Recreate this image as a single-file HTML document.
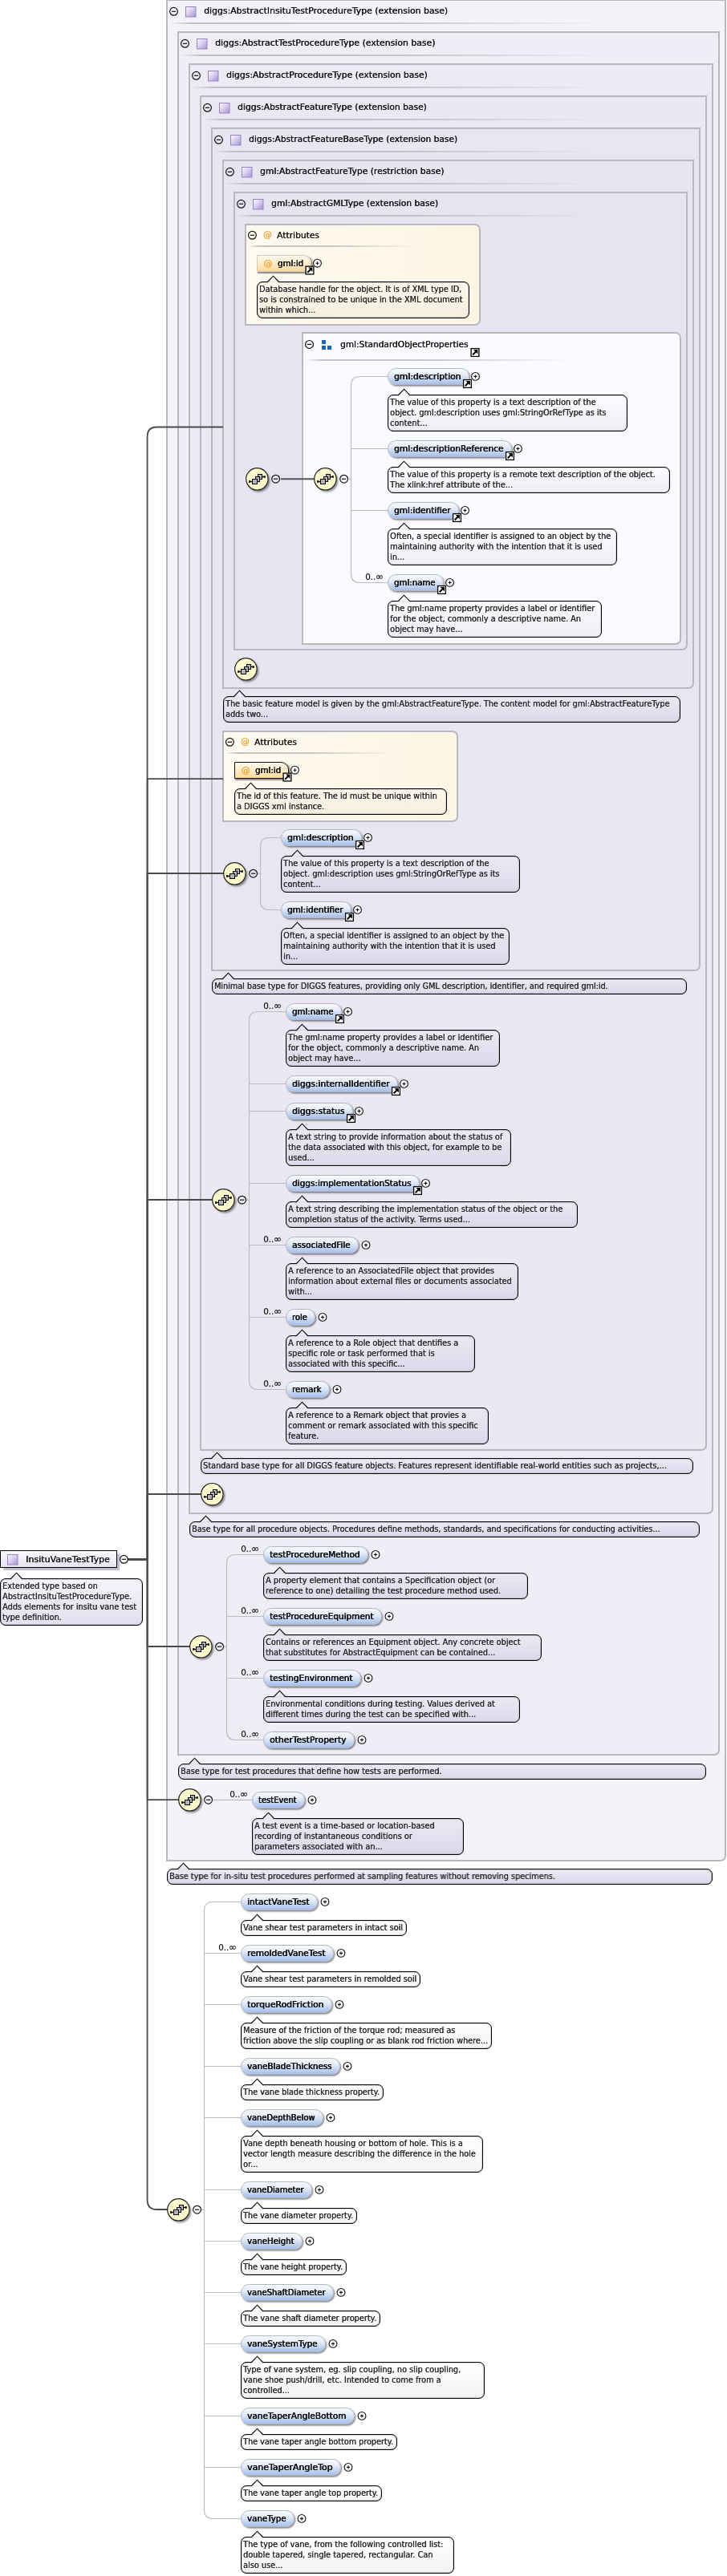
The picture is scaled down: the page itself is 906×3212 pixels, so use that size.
<!DOCTYPE html>
<html><head><meta charset="utf-8"><title>InsituVaneTestType</title>
<style>
html,body{margin:0;padding:0;background:#fff}
body{width:906px;height:3212px;position:relative;overflow:hidden;font-family:"DejaVu Sans","Liberation Sans",sans-serif;color:#1a1a1a}
div{position:absolute;box-sizing:content-box}
#w{left:0;top:0;width:906px;height:3212px;will-change:transform}
.tb{border:2px solid #b9b9bc;border-bottom-right-radius:7px}
.dv{left:2px;right:2px;height:2px;background:linear-gradient(90deg,rgba(185,185,190,0) 0%,rgba(185,185,190,.9) 4%,rgba(185,185,190,.8) 40%,rgba(185,185,190,0) 80%)}
.dvg{left:2px;right:2px;height:2px;background:linear-gradient(90deg,rgba(185,185,190,0) 0%,rgba(185,185,190,.85) 5%,rgba(185,185,190,.75) 35%,rgba(185,185,190,0) 72%)}
.dvr{left:2px;right:2px;height:2px;background:linear-gradient(90deg,rgba(185,185,190,0) 0%,rgba(185,185,190,.85) 5%,rgba(185,185,190,.75) 38%,rgba(185,185,190,0) 74%)}
.ab{border:2px solid #b9b9bc;border-radius:0 7px 7px 0;background:linear-gradient(90deg,#fefaf0,#fdf5e3);box-shadow:inset 1px 1px 0 rgba(255,255,255,.5), inset -1px -1px 0 rgba(255,255,255,.5)}
.gb{border:2px solid #b9b9bc;border-radius:0 7px 7px 0;background:#fafbfe}
.lbl{font-size:11px;line-height:16px;height:16px;white-space:nowrap;color:#151515;text-shadow:.38px 0 0 #151515}
.a,.lbl.a{color:#f5a63a;text-shadow:.2px 0 0 #f5a63a}
.el{height:19px;border:1px solid #b3b7c0;border-radius:10.5px;background:linear-gradient(#f7f9fd 0%,#e6edf9 38%,#bed1f1 75%,#a6c0ec 100%);box-shadow:1.2px 1.5px 2px rgba(0,0,0,.5);font-size:11px;line-height:19.6px;padding-left:6.5px;white-space:nowrap;color:#151515;text-shadow:.4px 0 0 #151515,-.1px 0 0 #151515}
.at{height:19px;border:1px solid #d0ccc2;border-radius:0 10px 0 0;background:linear-gradient(#fef8ec,#fdecc9 50%,#fad9a0);box-shadow:1.5px 1.5px 1.5px rgba(0,0,0,.45);font-size:11px;line-height:19.6px;white-space:nowrap;color:#151515;text-shadow:.4px 0 0 #151515,-.1px 0 0 #151515}
.at.rq{border-color:#111}
.at .a{display:inline-block;width:17px;margin-left:7.5px}
.an{border:1px solid #000;border-radius:7px;background:linear-gradient(#ece9f5,#dcd8ea);font-size:10px;line-height:13px;padding:2px 0 0 1.8px;white-space:nowrap;color:#2c2c2c;text-shadow:.3px 0 0 #2c2c2c;box-shadow:inset 0 0 .8px .2px rgba(0,0,0,.55);box-sizing:border-box;overflow:hidden}
.cd{font-size:10.4px;line-height:13px;white-space:nowrap;color:#111;letter-spacing:-.1px;-webkit-text-stroke:.15px #111}
.root{border:1px solid #000;background:linear-gradient(#fbfafd,#e6e2f2);box-shadow:2.5px 2.5px 1px rgba(110,100,160,.42)}
svg{position:absolute;left:0;top:0}
.sx{display:inline-block;transform-origin:0 50%;white-space:nowrap}
</style></head>
<body><div id="w">
<div class="tb" style="left:207px;top:-1px;width:694px;height:2318px;background:#f5f3fa"><div class="dv" style="top:27px"></div></div>
<div class="lbl" style="left:254px;top:6px;transform:translateY(0.4px);"><span class="sx" style="transform:scaleX(0.9884)">diggs:AbstractInsituTestProcedureType (extension base)</span></div>
<div class="tb" style="left:221px;top:39px;width:672px;height:2146px;background:#f0edf7"><div class="dv" style="top:27px"></div></div>
<div class="lbl" style="left:268px;top:46px;transform:translateY(0.4px);"><span class="sx" style="transform:scaleX(0.9896)">diggs:AbstractTestProcedureType (extension base)</span></div>
<div class="tb" style="left:235px;top:79px;width:650px;height:1805px;background:#edeaf5"><div class="dv" style="top:27px"></div></div>
<div class="lbl" style="left:282px;top:86px;transform:translateY(0.4px);"><span class="sx" style="transform:scaleX(0.9807)">diggs:AbstractProcedureType (extension base)</span></div>
<div class="tb" style="left:249px;top:119px;width:628px;height:1686px;background:#ebe8f4"><div class="dv" style="top:27px"></div></div>
<div class="lbl" style="left:296px;top:126px;transform:translateY(0.4px);"><span class="sx" style="transform:scaleX(0.9743)">diggs:AbstractFeatureType (extension base)</span></div>
<div class="tb" style="left:263px;top:159px;width:606px;height:1048px;background:#e9e6f3"><div class="dv" style="top:27px"></div></div>
<div class="lbl" style="left:310px;top:166px;transform:translateY(0.4px);"><span class="sx" style="transform:scaleX(0.9677)">diggs:AbstractFeatureBaseType (extension base)</span></div>
<div class="tb" style="left:277px;top:199px;width:584px;height:656px;background:#e8e5f2"><div class="dv" style="top:27px"></div></div>
<div class="lbl" style="left:324px;top:206px;transform:translateY(0.4px);"><span class="sx" style="transform:scaleX(0.9758)">gml:AbstractFeatureType (restriction base)</span></div>
<div class="tb" style="left:291px;top:239px;width:562px;height:568px;background:#e7e4f1"><div class="dv" style="top:27px"></div></div>
<div class="lbl" style="left:338px;top:246px;transform:translateY(0.4px);"><span class="sx" style="transform:scaleX(0.9720)">gml:AbstractGMLType (extension base)</span></div>
<div class="ab" style="left:305px;top:279px;width:290px;height:123px"><div class="dvr" style="top:25px"></div></div>
<div class="lbl a" style="left:327.6px;top:285px;transform:translateY(0.4px);"><span class="sx" style="transform:scaleX(0.9750)">@</span></div>
<div class="lbl" style="left:345px;top:286px;"><span class="sx" style="transform:scaleX(0.9722)">Attributes</span></div>
<div class="at" style="left:320px;top:318px;width:65.5px"><span class="a">@</span><span class="sx" style="transform:scaleX(0.9300)">gml:id</span></div>
<div class="an" style="left:320px;top:351px;width:265px;height:46px;background:linear-gradient(#fdf8ec,#f4eedf);"><span class="sx" style="transform:scaleX(0.9720)">Database handle for the object. It is of XML type ID,</span><br><span class="sx" style="transform:scaleX(0.9720)">so is constrained to be unique in the XML document</span><br><span class="sx" style="transform:scaleX(0.9720)">within which...</span></div>
<div class="gb" style="left:376px;top:414px;width:469px;height:386px"><div class="dvg" style="top:32px"></div></div>
<div class="lbl" style="left:423.5px;top:422px;"><span class="sx" style="transform:scaleX(0.9606)">gml:StandardObjectProperties</span></div>
<div class="el" style="left:483px;top:459px;width:93.5px"><span class="sx" style="transform:scaleX(0.9750)">gml:description</span></div>
<div class="an" style="left:483px;top:492px;width:299px;height:46px;background:linear-gradient(#fbfcfe,#eeeff4);"><span class="sx" style="transform:scaleX(0.9720)">The value of this property is a text description of the</span><br><span class="sx" style="transform:scaleX(0.9720)">object. gml:description uses gml:StringOrRefType as its</span><br><span class="sx" style="transform:scaleX(0.9720)">content...</span></div>
<div class="el" style="left:483px;top:549px;width:146.5px"><span class="sx" style="transform:scaleX(0.9680)">gml:descriptionReference</span></div>
<div class="an" style="left:483px;top:582px;width:352px;height:33px;background:linear-gradient(#fbfcfe,#eeeff4);"><span class="sx" style="transform:scaleX(0.9720)">The value of this property is a remote text description of the object.</span><br><span class="sx" style="transform:scaleX(0.9720)">The xlink:href attribute of the...</span></div>
<div class="el" style="left:483px;top:626px;width:80.5px"><span class="sx" style="transform:scaleX(0.9549)">gml:identifier</span></div>
<div class="an" style="left:483px;top:659px;width:286px;height:46px;background:linear-gradient(#fbfcfe,#eeeff4);"><span class="sx" style="transform:scaleX(0.9720)">Often, a special identifier is assigned to an object by the</span><br><span class="sx" style="transform:scaleX(0.9720)">maintaining authority with the intention that it is used</span><br><span class="sx" style="transform:scaleX(0.9720)">in...</span></div>
<div class="el" style="left:483px;top:716px;width:61.5px"><span class="sx" style="transform:scaleX(0.9253)">gml:name</span></div>
<div class="cd" style="left:455.2px;top:712.74px">0..<span style="font-size:12px;line-height:10px">∞</span></div>
<div class="an" style="left:483px;top:749px;width:267px;height:46px;background:linear-gradient(#fbfcfe,#eeeff4);"><span class="sx" style="transform:scaleX(0.9720)">The gml:name property provides a label or identifier</span><br><span class="sx" style="transform:scaleX(0.9720)">for the object, commonly a descriptive name. An</span><br><span class="sx" style="transform:scaleX(0.9720)">object may have...</span></div>
<div class="an" style="left:278px;top:868px;width:570px;height:33px;background:linear-gradient(#ece9f5,#dcd8ea);"><span class="sx" style="transform:scaleX(0.9670)">The basic feature model is given by the gml:AbstractFeatureType. The content model for gml:AbstractFeatureType</span><br><span class="sx" style="transform:scaleX(0.9670)">adds two...</span></div>
<div class="ab" style="left:277px;top:911px;width:290px;height:110px"><div class="dvr" style="top:25px"></div></div>
<div class="lbl a" style="left:299.6px;top:917px;transform:translateY(0.4px);"><span class="sx" style="transform:scaleX(0.9750)">@</span></div>
<div class="lbl" style="left:317px;top:918px;"><span class="sx" style="transform:scaleX(0.9722)">Attributes</span></div>
<div class="at rq" style="left:292px;top:950px;width:65.5px"><span class="a">@</span><span class="sx" style="transform:scaleX(0.9300)">gml:id</span></div>
<div class="an" style="left:292px;top:983px;width:265px;height:33px;background:linear-gradient(#fdf8ec,#f4eedf);"><span class="sx" style="transform:scaleX(0.9720)">The id of this feature. The id must be unique within</span><br><span class="sx" style="transform:scaleX(0.9720)">a DIGGS xml instance.</span></div>
<div class="el" style="left:350px;top:1034px;width:92.5px"><span class="sx" style="transform:scaleX(0.9633)">gml:description</span></div>
<div class="an" style="left:350px;top:1067px;width:298px;height:46px;background:linear-gradient(#ece9f5,#dcd8ea);"><span class="sx" style="transform:scaleX(0.9720)">The value of this property is a text description of the</span><br><span class="sx" style="transform:scaleX(0.9720)">object. gml:description uses gml:StringOrRefType as its</span><br><span class="sx" style="transform:scaleX(0.9720)">content...</span></div>
<div class="el" style="left:350px;top:1124px;width:79.5px"><span class="sx" style="transform:scaleX(0.9414)">gml:identifier</span></div>
<div class="an" style="left:350px;top:1157px;width:285px;height:46px;background:linear-gradient(#ece9f5,#dcd8ea);"><span class="sx" style="transform:scaleX(0.9720)">Often, a special identifier is assigned to an object by the</span><br><span class="sx" style="transform:scaleX(0.9720)">maintaining authority with the intention that it is used</span><br><span class="sx" style="transform:scaleX(0.9720)">in...</span></div>
<div class="an" style="left:264px;top:1220px;width:592px;height:20px;background:linear-gradient(#ece9f5,#dcd8ea);"><span class="sx" style="transform:scaleX(0.9630)">Minimal base type for DIGGS features, providing only GML description, identifier, and required gml:id.</span></div>
<div class="el" style="left:356px;top:1251px;width:61.5px"><span class="sx" style="transform:scaleX(0.9253)">gml:name</span></div>
<div class="cd" style="left:328.2px;top:1247.74px">0..<span style="font-size:12px;line-height:10px">∞</span></div>
<div class="an" style="left:356px;top:1284px;width:267px;height:46px;background:linear-gradient(#ece9f5,#dcd8ea);"><span class="sx" style="transform:scaleX(0.9720)">The gml:name property provides a label or identifier</span><br><span class="sx" style="transform:scaleX(0.9720)">for the object, commonly a descriptive name. An</span><br><span class="sx" style="transform:scaleX(0.9720)">object may have...</span></div>
<div class="el" style="left:356px;top:1341px;width:131.5px"><span class="sx" style="transform:scaleX(0.9704)">diggs:internalIdentifier</span></div>
<div class="el" style="left:356px;top:1375px;width:75.5px"><span class="sx" style="transform:scaleX(0.9740)">diggs:status</span></div>
<div class="an" style="left:356px;top:1408px;width:281px;height:46px;background:linear-gradient(#ece9f5,#dcd8ea);"><span class="sx" style="transform:scaleX(0.9720)">A text string to provide information about the status of</span><br><span class="sx" style="transform:scaleX(0.9720)">the data associated with this object, for example to be</span><br><span class="sx" style="transform:scaleX(0.9720)">used...</span></div>
<div class="el" style="left:356px;top:1465px;width:158.5px"><span class="sx" style="transform:scaleX(0.9539)">diggs:implementationStatus</span></div>
<div class="an" style="left:356px;top:1498px;width:364px;height:33px;background:linear-gradient(#ece9f5,#dcd8ea);"><span class="sx" style="transform:scaleX(0.9720)">A text string describing the implementation status of the object or the</span><br><span class="sx" style="transform:scaleX(0.9720)">completion status of the activity. Terms used...</span></div>
<div class="el" style="left:356px;top:1542px;width:82.5px"><span class="sx" style="transform:scaleX(0.9383)">associatedFile</span></div>
<div class="cd" style="left:328.2px;top:1538.74px">0..<span style="font-size:12px;line-height:10px">∞</span></div>
<div class="an" style="left:356px;top:1575px;width:290px;height:46px;background:linear-gradient(#ece9f5,#dcd8ea);"><span class="sx" style="transform:scaleX(0.9720)">A reference to an AssociatedFile object that provides</span><br><span class="sx" style="transform:scaleX(0.9720)">information about external files or documents associated</span><br><span class="sx" style="transform:scaleX(0.9720)">with...</span></div>
<div class="el" style="left:356px;top:1632px;width:28.5px"><span class="sx" style="transform:scaleX(0.9000)">role</span></div>
<div class="cd" style="left:328.2px;top:1628.74px">0..<span style="font-size:12px;line-height:10px">∞</span></div>
<div class="an" style="left:356px;top:1665px;width:236px;height:46px;background:linear-gradient(#ece9f5,#dcd8ea);"><span class="sx" style="transform:scaleX(0.9720)">A reference to a Role object that dentifies a</span><br><span class="sx" style="transform:scaleX(0.9720)">specific role or task performed that is</span><br><span class="sx" style="transform:scaleX(0.9720)">associated with this specific...</span></div>
<div class="el" style="left:356px;top:1722px;width:46.5px"><span class="sx" style="transform:scaleX(0.9266)">remark</span></div>
<div class="cd" style="left:328.2px;top:1718.74px">0..<span style="font-size:12px;line-height:10px">∞</span></div>
<div class="an" style="left:356px;top:1755px;width:253px;height:46px;background:linear-gradient(#ece9f5,#dcd8ea);"><span class="sx" style="transform:scaleX(0.9720)">A reference to a Remark object that provies a</span><br><span class="sx" style="transform:scaleX(0.9720)">comment or remark associated with this specific</span><br><span class="sx" style="transform:scaleX(0.9720)">feature.</span></div>
<div class="an" style="left:250px;top:1818px;width:614px;height:20px;background:linear-gradient(#ece9f5,#dcd8ea);"><span class="sx" style="transform:scaleX(0.9720)">Standard base type for all DIGGS feature objects. Features represent identifiable real-world entities such as projects,...</span></div>
<div class="an" style="left:236px;top:1897px;width:636px;height:20px;background:linear-gradient(#ece9f5,#dcd8ea);"><span class="sx" style="transform:scaleX(0.9660)">Base type for all procedure objects. Procedures define methods, standards, and specifications for conducting activities...</span></div>
<div class="el" style="left:328px;top:1928px;width:122.5px"><span class="sx" style="transform:scaleX(0.9562)">testProcedureMethod</span></div>
<div class="cd" style="left:300.2px;top:1924.74px">0..<span style="font-size:12px;line-height:10px">∞</span></div>
<div class="an" style="left:328px;top:1961px;width:330px;height:33px;background:linear-gradient(#ece9f5,#dcd8ea);"><span class="sx" style="transform:scaleX(0.9720)">A property element that contains a Specification object (or</span><br><span class="sx" style="transform:scaleX(0.9720)">reference to one) detailing the test procedure method used.</span></div>
<div class="el" style="left:328px;top:2005px;width:139.5px"><span class="sx" style="transform:scaleX(0.9513)">testProcedureEquipment</span></div>
<div class="cd" style="left:300.2px;top:2001.74px">0..<span style="font-size:12px;line-height:10px">∞</span></div>
<div class="an" style="left:328px;top:2038px;width:347px;height:33px;background:linear-gradient(#ece9f5,#dcd8ea);"><span class="sx" style="transform:scaleX(0.9720)">Contains or references an Equipment object. Any concrete object</span><br><span class="sx" style="transform:scaleX(0.9720)">that substitutes for AbstractEquipment can be contained...</span></div>
<div class="el" style="left:328px;top:2082px;width:113.5px"><span class="sx" style="transform:scaleX(0.9549)">testingEnvironment</span></div>
<div class="cd" style="left:300.2px;top:2078.74px">0..<span style="font-size:12px;line-height:10px">∞</span></div>
<div class="an" style="left:328px;top:2115px;width:320px;height:33px;background:linear-gradient(#ece9f5,#dcd8ea);"><span class="sx" style="transform:scaleX(0.9720)">Environmental conditions during testing. Values derived at</span><br><span class="sx" style="transform:scaleX(0.9720)">different times during the test can be specified with...</span></div>
<div class="el" style="left:328px;top:2159px;width:105.5px"><span class="sx" style="transform:scaleX(0.9793)">otherTestProperty</span></div>
<div class="cd" style="left:300.2px;top:2155.74px">0..<span style="font-size:12px;line-height:10px">∞</span></div>
<div class="an" style="left:222px;top:2199px;width:658px;height:20px;background:linear-gradient(#ece9f5,#dcd8ea);"><span class="sx" style="transform:scaleX(0.9690)">Base type for test procedures that define how tests are performed.</span></div>
<div class="el" style="left:314px;top:2234px;width:57.5px"><span class="sx" style="transform:scaleX(0.9023)">testEvent</span></div>
<div class="cd" style="left:286.2px;top:2230.74px">0..<span style="font-size:12px;line-height:10px">∞</span></div>
<div class="an" style="left:314px;top:2267px;width:264px;height:46px;background:linear-gradient(#ece9f5,#dcd8ea);"><span class="sx" style="transform:scaleX(0.9720)">A test event is a time-based or location-based</span><br><span class="sx" style="transform:scaleX(0.9720)">recording of instantaneous conditions or</span><br><span class="sx" style="transform:scaleX(0.9720)">parameters associated with an...</span></div>
<div class="an" style="left:208px;top:2330px;width:680px;height:20px;background:linear-gradient(#ece9f5,#dcd8ea);"><span class="sx" style="transform:scaleX(0.9700)">Base type for in-situ test procedures performed at sampling features without removing specimens.</span></div>
<div class="el" style="left:300px;top:2361px;width:87.5px"><span class="sx" style="transform:scaleX(0.9659)">intactVaneTest</span></div>
<div class="an" style="left:300px;top:2394px;width:207px;height:20px;background:linear-gradient(#ffffff,#f3f3f6);"><span class="sx" style="transform:scaleX(0.9781)">Vane shear test parameters in intact soil</span></div>
<div class="el" style="left:300px;top:2425px;width:107.5px"><span class="sx" style="transform:scaleX(0.9645)">remoldedVaneTest</span></div>
<div class="cd" style="left:272.2px;top:2421.74px">0..<span style="font-size:12px;line-height:10px">∞</span></div>
<div class="an" style="left:300px;top:2458px;width:224px;height:20px;background:linear-gradient(#ffffff,#f3f3f6);"><span class="sx" style="transform:scaleX(0.9713)">Vane shear test parameters in remolded soil</span></div>
<div class="el" style="left:300px;top:2489px;width:105.5px"><span class="sx" style="transform:scaleX(0.9826)">torqueRodFriction</span></div>
<div class="an" style="left:300px;top:2522px;width:313px;height:33px;background:linear-gradient(#ffffff,#f3f3f6);"><span class="sx" style="transform:scaleX(0.9708)">Measure of the friction of the torque rod; measured as</span><br><span class="sx" style="transform:scaleX(0.9708)">friction above the slip coupling or as blank rod friction where...</span></div>
<div class="el" style="left:300px;top:2566px;width:115.5px"><span class="sx" style="transform:scaleX(0.9382)">vaneBladeThickness</span></div>
<div class="an" style="left:300px;top:2599px;width:178px;height:20px;background:linear-gradient(#ffffff,#f3f3f6);"><span class="sx" style="transform:scaleX(0.9692)">The vane blade thickness property.</span></div>
<div class="el" style="left:300px;top:2630px;width:94.5px"><span class="sx" style="transform:scaleX(0.9028)">vaneDepthBelow</span></div>
<div class="an" style="left:300px;top:2663px;width:302px;height:46px;background:linear-gradient(#ffffff,#f3f3f6);"><span class="sx" style="transform:scaleX(0.9720)">Vane depth beneath housing or bottom of hole. This is a</span><br><span class="sx" style="transform:scaleX(0.9720)">vector length measure describing the difference in the hole</span><br><span class="sx" style="transform:scaleX(0.9720)">or...</span></div>
<div class="el" style="left:300px;top:2720px;width:80.5px"><span class="sx" style="transform:scaleX(0.9001)">vaneDiameter</span></div>
<div class="an" style="left:300px;top:2753px;width:145px;height:20px;background:linear-gradient(#ffffff,#f3f3f6);"><span class="sx" style="transform:scaleX(0.9610)">The vane diameter property.</span></div>
<div class="el" style="left:300px;top:2784px;width:68.5px"><span class="sx" style="transform:scaleX(0.9235)">vaneHeight</span></div>
<div class="an" style="left:300px;top:2817px;width:132px;height:20px;background:linear-gradient(#ffffff,#f3f3f6);"><span class="sx" style="transform:scaleX(0.9603)">The vane height property.</span></div>
<div class="el" style="left:300px;top:2848px;width:107.5px"><span class="sx" style="transform:scaleX(0.9111)">vaneShaftDiameter</span></div>
<div class="an" style="left:300px;top:2881px;width:174px;height:20px;background:linear-gradient(#ffffff,#f3f3f6);"><span class="sx" style="transform:scaleX(0.9726)">The vane shaft diameter property.</span></div>
<div class="el" style="left:300px;top:2912px;width:97.5px"><span class="sx" style="transform:scaleX(0.9380)">vaneSystemType</span></div>
<div class="an" style="left:300px;top:2945px;width:304px;height:46px;background:linear-gradient(#ffffff,#f3f3f6);"><span class="sx" style="transform:scaleX(0.9720)">Type of vane system, eg. slip coupling, no slip coupling,</span><br><span class="sx" style="transform:scaleX(0.9720)">vane shoe push/drill, etc. Intended to come from a</span><br><span class="sx" style="transform:scaleX(0.9720)">controlled...</span></div>
<div class="el" style="left:300px;top:3002px;width:133.5px"><span class="sx" style="transform:scaleX(0.9607)">vaneTaperAngleBottom</span></div>
<div class="an" style="left:300px;top:3035px;width:195px;height:20px;background:linear-gradient(#ffffff,#f3f3f6);"><span class="sx" style="transform:scaleX(0.9631)">The vane taper angle bottom property.</span></div>
<div class="el" style="left:300px;top:3066px;width:116.5px"><span class="sx" style="transform:scaleX(0.9977)">vaneTaperAngleTop</span></div>
<div class="an" style="left:300px;top:3099px;width:176px;height:20px;background:linear-gradient(#ffffff,#f3f3f6);"><span class="sx" style="transform:scaleX(0.9634)">The vane taper angle top property.</span></div>
<div class="el" style="left:300px;top:3130px;width:58.5px"><span class="sx" style="transform:scaleX(0.9282)">vaneType</span></div>
<div class="an" style="left:300px;top:3163px;width:266px;height:46px;background:linear-gradient(#ffffff,#f3f3f6);"><span class="sx" style="transform:scaleX(0.9720)">The type of vane, from the following controlled list:</span><br><span class="sx" style="transform:scaleX(0.9720)">double tapered, single tapered, rectangular. Can</span><br><span class="sx" style="transform:scaleX(0.9720)">also use...</span></div>
<div class="root" style="left:0px;top:1933px;width:144px;height:20px"></div>
<div class="lbl" style="left:31.8px;top:1937px;"><span class="sx" style="transform:scaleX(1.0033)">InsituVaneTestType</span></div>
<div class="an" style="left:0px;top:1968px;width:178px;height:59px;background:linear-gradient(#f6f4fb,#e3dff0);"><span class="sx" style="transform:scaleX(0.9720)">Extended type based on</span><br><span class="sx" style="transform:scaleX(0.9720)">AbstractInsituTestProcedureType.</span><br><span class="sx" style="transform:scaleX(0.9720)">Adds elements for insitu vane test</span><br><span class="sx" style="transform:scaleX(0.9720)">type definition.</span></div>
<svg width="906" height="3212" viewBox="0 0 906 3212" style="z-index:1"><defs><linearGradient id="gsq" x1="0" y1="0" x2="1" y2="1"><stop offset="0" stop-color="#fbfaff"/><stop offset=".45" stop-color="#d9d1ef"/><stop offset="1" stop-color="#a292d4"/></linearGradient><filter id="blur" x="-30%" y="-30%" width="160%" height="160%"><feGaussianBlur stdDeviation="1.1"/></filter></defs>
<path d="M159.5 1944.4H183.6V544.5Q183.6 532.5 195.6 532.5H278" fill="none" stroke="#4a4a4a" stroke-width="1.8" stroke-linejoin="miter"/>
<path d="M159.5 1944.4H183.6V971.2H278" fill="none" stroke="#4a4a4a" stroke-width="1.8" stroke-linejoin="miter"/>
<path d="M159.5 1944.4H183.6V1089H279" fill="none" stroke="#4a4a4a" stroke-width="1.8" stroke-linejoin="miter"/>
<path d="M159.5 1944.4H183.6V1496H265" fill="none" stroke="#4a4a4a" stroke-width="1.8" stroke-linejoin="miter"/>
<path d="M159.5 1944.4H183.6V1863H251" fill="none" stroke="#4a4a4a" stroke-width="1.8" stroke-linejoin="miter"/>
<path d="M159.5 1944.4H183.6V2053H237" fill="none" stroke="#4a4a4a" stroke-width="1.8" stroke-linejoin="miter"/>
<path d="M159.5 1944.4H183.6V2244.2H223" fill="none" stroke="#4a4a4a" stroke-width="1.8" stroke-linejoin="miter"/>
<path d="M159.5 1944.4H183.6V2743Q183.6 2755 195.6 2755H209" fill="none" stroke="#4a4a4a" stroke-width="1.8" stroke-linejoin="miter"/>
<path d="M350 597.2H392" stroke="#555" stroke-width="2"/>
<path d="M433.5 597.3H437.5M484 469.5H448.5Q437.5 469.5 437.5 480.5V715.5Q437.5 726.5 448.5 726.5H484M437.5 559.5H484M437.5 636.5H484" fill="none" stroke="#bdbdbd" stroke-width="1.2"/>
<path d="M320.5 1089.3H324.5M351 1044.5H335.5Q324.5 1044.5 324.5 1055.5V1123.5Q324.5 1134.5 335.5 1134.5H351" fill="none" stroke="#bdbdbd" stroke-width="1.2"/>
<path d="M306.5 1496.3H310.5M357 1261.5H321.5Q310.5 1261.5 310.5 1272.5V1721.5Q310.5 1732.5 321.5 1732.5H357M310.5 1351.5H357M310.5 1385.5H357M310.5 1475.5H357M310.5 1552.5H357M310.5 1642.5H357" fill="none" stroke="#bdbdbd" stroke-width="1.2"/>
<path d="M278.5 2053.3H282.5M329 1938.5H293.5Q282.5 1938.5 282.5 1949.5V2158.5Q282.5 2169.5 293.5 2169.5H329M282.5 2015.5H329M282.5 2092.5H329" fill="none" stroke="#bdbdbd" stroke-width="1.2"/>
<path d="M264.5 2244.3H315" stroke="#bdbdbd" stroke-width="1.2"/>
<path d="M250.5 2755.3H254.5M301 2371.5H265.5Q254.5 2371.5 254.5 2382.5V3129.5Q254.5 3140.5 265.5 3140.5H301M254.5 2435.5H301M254.5 2499.5H301M254.5 2576.5H301M254.5 2640.5H301M254.5 2730.5H301M254.5 2794.5H301M254.5 2858.5H301M254.5 2922.5H301M254.5 3012.5H301M254.5 3076.5H301" fill="none" stroke="#bdbdbd" stroke-width="1.2"/>
</svg>
<svg width="906" height="3212" viewBox="0 0 906 3212" style="z-index:3">
<g transform="translate(216.5,14.3)"><circle r="4.9" fill="none" stroke="#111" stroke-width="1.2"/><path d="M-2.6 0H2.6" stroke="#111" stroke-width="1.2"/></g>
<rect x="231.5" y="8.5" width="12.5" height="12.5" fill="url(#gsq)" stroke="#9585c4" stroke-width="1"/>
<g transform="translate(230.5,54.3)"><circle r="4.9" fill="none" stroke="#111" stroke-width="1.2"/><path d="M-2.6 0H2.6" stroke="#111" stroke-width="1.2"/></g>
<rect x="245.5" y="48.5" width="12.5" height="12.5" fill="url(#gsq)" stroke="#9585c4" stroke-width="1"/>
<g transform="translate(244.5,94.3)"><circle r="4.9" fill="none" stroke="#111" stroke-width="1.2"/><path d="M-2.6 0H2.6" stroke="#111" stroke-width="1.2"/></g>
<rect x="259.5" y="88.5" width="12.5" height="12.5" fill="url(#gsq)" stroke="#9585c4" stroke-width="1"/>
<g transform="translate(258.5,134.3)"><circle r="4.9" fill="none" stroke="#111" stroke-width="1.2"/><path d="M-2.6 0H2.6" stroke="#111" stroke-width="1.2"/></g>
<rect x="273.5" y="128.5" width="12.5" height="12.5" fill="url(#gsq)" stroke="#9585c4" stroke-width="1"/>
<g transform="translate(272.5,174.3)"><circle r="4.9" fill="none" stroke="#111" stroke-width="1.2"/><path d="M-2.6 0H2.6" stroke="#111" stroke-width="1.2"/></g>
<rect x="287.5" y="168.5" width="12.5" height="12.5" fill="url(#gsq)" stroke="#9585c4" stroke-width="1"/>
<g transform="translate(286.5,214.3)"><circle r="4.9" fill="none" stroke="#111" stroke-width="1.2"/><path d="M-2.6 0H2.6" stroke="#111" stroke-width="1.2"/></g>
<rect x="301.5" y="208.5" width="12.5" height="12.5" fill="url(#gsq)" stroke="#9585c4" stroke-width="1"/>
<g transform="translate(300.5,254.3)"><circle r="4.9" fill="none" stroke="#111" stroke-width="1.2"/><path d="M-2.6 0H2.6" stroke="#111" stroke-width="1.2"/></g>
<rect x="315.5" y="248.5" width="12.5" height="12.5" fill="url(#gsq)" stroke="#9585c4" stroke-width="1"/>
<g transform="translate(314.4,293.3)"><circle r="4.9" fill="none" stroke="#111" stroke-width="1.2"/><path d="M-2.6 0H2.6" stroke="#111" stroke-width="1.2"/></g>
<g transform="translate(380.5,331.5)"><rect x="0.6" y="0.6" width="9.8" height="9.8" fill="#fff" stroke="#000" stroke-width="1.3"/><path d="M3.6 2.1H8.9V7.4Z" fill="#000"/><path d="M7.2 3.8L2.7 8.3" stroke="#000" stroke-width="2"/></g>
<g transform="translate(395.5,328.2)"><circle r="4.9" fill="#fdfdff" stroke="#111" stroke-width="1.1"/><path d="M-2 0H2M0 -2V2" stroke="#111" stroke-width="1.1"/></g>
<path d="M333.5 351.5L340.5 344.2L347.5 351.5" fill="#fdf8ec" stroke="#000" stroke-width="1.1" stroke-linejoin="miter"/><path d="M334.5 352H346.5" stroke="#fdf8ec" stroke-width="1.8"/>
<g transform="translate(385.5,429.4)"><circle r="4.9" fill="none" stroke="#111" stroke-width="1.2"/><path d="M-2.6 0H2.6" stroke="#111" stroke-width="1.2"/></g>
<g fill="#1f63b9"><rect x="401" y="424" width="5" height="5"/><rect x="401" y="431" width="5" height="5"/><rect x="408" y="431" width="5" height="5"/></g>
<g transform="translate(586.5,434)"><rect x="0.6" y="0.6" width="9.8" height="9.8" fill="#fff" stroke="#000" stroke-width="1.3"/><path d="M3.6 2.1H8.9V7.4Z" fill="#000"/><path d="M7.2 3.8L2.7 8.3" stroke="#000" stroke-width="2"/></g>
<g transform="translate(320.4,597.3)"><circle cx="2" cy="2.2" r="14" fill="#000" opacity=".42" filter="url(#blur)"/><circle r="13.7" fill="#fcf9cd" stroke="#222" stroke-width="1.2"/><path d="M-9.5 3.2H-5.6M6 -2.8H9.5" stroke="#111" stroke-width="1.5"/><rect x="-10.3" y="1.8" width="2" height="2.8" fill="#111"/><rect x="8.4" y="-4.2" width="2" height="2.8" fill="#111"/><rect x="0.9" y="-5.7" width="5.4" height="5.7" fill="#b2b2b2" stroke="#000" stroke-width="1" shape-rendering="crispEdges"/><rect x="-2.3" y="-2.5" width="5.4" height="5.7" fill="#b2b2b2" stroke="#000" stroke-width="1" shape-rendering="crispEdges"/><rect x="-5.6" y="0.6" width="5.4" height="5.7" fill="#b2b2b2" stroke="#000" stroke-width="1" shape-rendering="crispEdges"/></g>
<g transform="translate(343.6,597.2)"><circle r="4.9" fill="none" stroke="#111" stroke-width="1.2"/><path d="M-2.6 0H2.6" stroke="#111" stroke-width="1.2"/></g>
<g transform="translate(405.4,597.3)"><circle cx="2" cy="2.2" r="14" fill="#000" opacity=".42" filter="url(#blur)"/><circle r="13.7" fill="#fcf9cd" stroke="#222" stroke-width="1.2"/><path d="M-9.5 3.2H-5.6M6 -2.8H9.5" stroke="#111" stroke-width="1.5"/><rect x="-10.3" y="1.8" width="2" height="2.8" fill="#111"/><rect x="8.4" y="-4.2" width="2" height="2.8" fill="#111"/><rect x="0.9" y="-5.7" width="5.4" height="5.7" fill="#b2b2b2" stroke="#000" stroke-width="1" shape-rendering="crispEdges"/><rect x="-2.3" y="-2.5" width="5.4" height="5.7" fill="#b2b2b2" stroke="#000" stroke-width="1" shape-rendering="crispEdges"/><rect x="-5.6" y="0.6" width="5.4" height="5.7" fill="#b2b2b2" stroke="#000" stroke-width="1" shape-rendering="crispEdges"/></g>
<g transform="translate(428.6,597.2)"><circle r="4.9" fill="none" stroke="#111" stroke-width="1.2"/><path d="M-2.6 0H2.6" stroke="#111" stroke-width="1.2"/></g>
<g transform="translate(577,473)"><rect x="0.6" y="0.6" width="9.8" height="9.8" fill="#fff" stroke="#000" stroke-width="1.3"/><path d="M3.6 2.1H8.9V7.4Z" fill="#000"/><path d="M7.2 3.8L2.7 8.3" stroke="#000" stroke-width="2"/></g>
<g transform="translate(592.5,469.4)"><circle r="4.9" fill="#fdfdff" stroke="#111" stroke-width="1.1"/><path d="M-2 0H2M0 -2V2" stroke="#111" stroke-width="1.1"/></g>
<path d="M496.5 492.5L503.5 485.2L510.5 492.5" fill="#fbfcfe" stroke="#000" stroke-width="1.1" stroke-linejoin="miter"/><path d="M497.5 493H509.5" stroke="#fbfcfe" stroke-width="1.8"/>
<g transform="translate(630,563)"><rect x="0.6" y="0.6" width="9.8" height="9.8" fill="#fff" stroke="#000" stroke-width="1.3"/><path d="M3.6 2.1H8.9V7.4Z" fill="#000"/><path d="M7.2 3.8L2.7 8.3" stroke="#000" stroke-width="2"/></g>
<g transform="translate(645.5,559.4)"><circle r="4.9" fill="#fdfdff" stroke="#111" stroke-width="1.1"/><path d="M-2 0H2M0 -2V2" stroke="#111" stroke-width="1.1"/></g>
<path d="M496.5 582.5L503.5 575.2L510.5 582.5" fill="#fbfcfe" stroke="#000" stroke-width="1.1" stroke-linejoin="miter"/><path d="M497.5 583H509.5" stroke="#fbfcfe" stroke-width="1.8"/>
<g transform="translate(564,640)"><rect x="0.6" y="0.6" width="9.8" height="9.8" fill="#fff" stroke="#000" stroke-width="1.3"/><path d="M3.6 2.1H8.9V7.4Z" fill="#000"/><path d="M7.2 3.8L2.7 8.3" stroke="#000" stroke-width="2"/></g>
<g transform="translate(579.5,636.4)"><circle r="4.9" fill="#fdfdff" stroke="#111" stroke-width="1.1"/><path d="M-2 0H2M0 -2V2" stroke="#111" stroke-width="1.1"/></g>
<path d="M496.5 659.5L503.5 652.2L510.5 659.5" fill="#fbfcfe" stroke="#000" stroke-width="1.1" stroke-linejoin="miter"/><path d="M497.5 660H509.5" stroke="#fbfcfe" stroke-width="1.8"/>
<g transform="translate(545,730)"><rect x="0.6" y="0.6" width="9.8" height="9.8" fill="#fff" stroke="#000" stroke-width="1.3"/><path d="M3.6 2.1H8.9V7.4Z" fill="#000"/><path d="M7.2 3.8L2.7 8.3" stroke="#000" stroke-width="2"/></g>
<g transform="translate(560.5,726.4)"><circle r="4.9" fill="#fdfdff" stroke="#111" stroke-width="1.1"/><path d="M-2 0H2M0 -2V2" stroke="#111" stroke-width="1.1"/></g>
<path d="M496.5 749.5L503.5 742.2L510.5 749.5" fill="#fbfcfe" stroke="#000" stroke-width="1.1" stroke-linejoin="miter"/><path d="M497.5 750H509.5" stroke="#fbfcfe" stroke-width="1.8"/>
<g transform="translate(306.4,834.3)"><circle cx="2" cy="2.2" r="14" fill="#000" opacity=".42" filter="url(#blur)"/><circle r="13.7" fill="#fcf9cd" stroke="#222" stroke-width="1.2"/><path d="M-9.5 3.2H-5.6M6 -2.8H9.5" stroke="#111" stroke-width="1.5"/><rect x="-10.3" y="1.8" width="2" height="2.8" fill="#111"/><rect x="8.4" y="-4.2" width="2" height="2.8" fill="#111"/><rect x="0.9" y="-5.7" width="5.4" height="5.7" fill="#b2b2b2" stroke="#000" stroke-width="1" shape-rendering="crispEdges"/><rect x="-2.3" y="-2.5" width="5.4" height="5.7" fill="#b2b2b2" stroke="#000" stroke-width="1" shape-rendering="crispEdges"/><rect x="-5.6" y="0.6" width="5.4" height="5.7" fill="#b2b2b2" stroke="#000" stroke-width="1" shape-rendering="crispEdges"/></g>
<path d="M291.5 868.5L298.5 861.2L305.5 868.5" fill="#ece9f5" stroke="#000" stroke-width="1.1" stroke-linejoin="miter"/><path d="M292.5 869H304.5" stroke="#ece9f5" stroke-width="1.8"/>
<g transform="translate(286.4,925.3)"><circle r="4.9" fill="none" stroke="#111" stroke-width="1.2"/><path d="M-2.6 0H2.6" stroke="#111" stroke-width="1.2"/></g>
<g transform="translate(352.5,963.5)"><rect x="0.6" y="0.6" width="9.8" height="9.8" fill="#fff" stroke="#000" stroke-width="1.3"/><path d="M3.6 2.1H8.9V7.4Z" fill="#000"/><path d="M7.2 3.8L2.7 8.3" stroke="#000" stroke-width="2"/></g>
<g transform="translate(367.5,960.2)"><circle r="4.9" fill="#fdfdff" stroke="#111" stroke-width="1.1"/><path d="M-2 0H2M0 -2V2" stroke="#111" stroke-width="1.1"/></g>
<path d="M305.5 983.5L312.5 976.2L319.5 983.5" fill="#fdf8ec" stroke="#000" stroke-width="1.1" stroke-linejoin="miter"/><path d="M306.5 984H318.5" stroke="#fdf8ec" stroke-width="1.8"/>
<g transform="translate(292.4,1089.3)"><circle cx="2" cy="2.2" r="14" fill="#000" opacity=".42" filter="url(#blur)"/><circle r="13.7" fill="#fcf9cd" stroke="#222" stroke-width="1.2"/><path d="M-9.5 3.2H-5.6M6 -2.8H9.5" stroke="#111" stroke-width="1.5"/><rect x="-10.3" y="1.8" width="2" height="2.8" fill="#111"/><rect x="8.4" y="-4.2" width="2" height="2.8" fill="#111"/><rect x="0.9" y="-5.7" width="5.4" height="5.7" fill="#b2b2b2" stroke="#000" stroke-width="1" shape-rendering="crispEdges"/><rect x="-2.3" y="-2.5" width="5.4" height="5.7" fill="#b2b2b2" stroke="#000" stroke-width="1" shape-rendering="crispEdges"/><rect x="-5.6" y="0.6" width="5.4" height="5.7" fill="#b2b2b2" stroke="#000" stroke-width="1" shape-rendering="crispEdges"/></g>
<g transform="translate(315.6,1089.2)"><circle r="4.9" fill="none" stroke="#111" stroke-width="1.2"/><path d="M-2.6 0H2.6" stroke="#111" stroke-width="1.2"/></g>
<g transform="translate(443,1048)"><rect x="0.6" y="0.6" width="9.8" height="9.8" fill="#fff" stroke="#000" stroke-width="1.3"/><path d="M3.6 2.1H8.9V7.4Z" fill="#000"/><path d="M7.2 3.8L2.7 8.3" stroke="#000" stroke-width="2"/></g>
<g transform="translate(458.5,1044.4)"><circle r="4.9" fill="#fdfdff" stroke="#111" stroke-width="1.1"/><path d="M-2 0H2M0 -2V2" stroke="#111" stroke-width="1.1"/></g>
<path d="M363.5 1067.5L370.5 1060.2L377.5 1067.5" fill="#ece9f5" stroke="#000" stroke-width="1.1" stroke-linejoin="miter"/><path d="M364.5 1068H376.5" stroke="#ece9f5" stroke-width="1.8"/>
<g transform="translate(430,1138)"><rect x="0.6" y="0.6" width="9.8" height="9.8" fill="#fff" stroke="#000" stroke-width="1.3"/><path d="M3.6 2.1H8.9V7.4Z" fill="#000"/><path d="M7.2 3.8L2.7 8.3" stroke="#000" stroke-width="2"/></g>
<g transform="translate(445.5,1134.4)"><circle r="4.9" fill="#fdfdff" stroke="#111" stroke-width="1.1"/><path d="M-2 0H2M0 -2V2" stroke="#111" stroke-width="1.1"/></g>
<path d="M363.5 1157.5L370.5 1150.2L377.5 1157.5" fill="#ece9f5" stroke="#000" stroke-width="1.1" stroke-linejoin="miter"/><path d="M364.5 1158H376.5" stroke="#ece9f5" stroke-width="1.8"/>
<path d="M277.5 1220.5L284.5 1213.2L291.5 1220.5" fill="#ece9f5" stroke="#000" stroke-width="1.1" stroke-linejoin="miter"/><path d="M278.5 1221H290.5" stroke="#ece9f5" stroke-width="1.8"/>
<g transform="translate(278.4,1496.3)"><circle cx="2" cy="2.2" r="14" fill="#000" opacity=".42" filter="url(#blur)"/><circle r="13.7" fill="#fcf9cd" stroke="#222" stroke-width="1.2"/><path d="M-9.5 3.2H-5.6M6 -2.8H9.5" stroke="#111" stroke-width="1.5"/><rect x="-10.3" y="1.8" width="2" height="2.8" fill="#111"/><rect x="8.4" y="-4.2" width="2" height="2.8" fill="#111"/><rect x="0.9" y="-5.7" width="5.4" height="5.7" fill="#b2b2b2" stroke="#000" stroke-width="1" shape-rendering="crispEdges"/><rect x="-2.3" y="-2.5" width="5.4" height="5.7" fill="#b2b2b2" stroke="#000" stroke-width="1" shape-rendering="crispEdges"/><rect x="-5.6" y="0.6" width="5.4" height="5.7" fill="#b2b2b2" stroke="#000" stroke-width="1" shape-rendering="crispEdges"/></g>
<g transform="translate(301.6,1496.2)"><circle r="4.9" fill="none" stroke="#111" stroke-width="1.2"/><path d="M-2.6 0H2.6" stroke="#111" stroke-width="1.2"/></g>
<g transform="translate(418,1265)"><rect x="0.6" y="0.6" width="9.8" height="9.8" fill="#fff" stroke="#000" stroke-width="1.3"/><path d="M3.6 2.1H8.9V7.4Z" fill="#000"/><path d="M7.2 3.8L2.7 8.3" stroke="#000" stroke-width="2"/></g>
<g transform="translate(433.5,1261.4)"><circle r="4.9" fill="#fdfdff" stroke="#111" stroke-width="1.1"/><path d="M-2 0H2M0 -2V2" stroke="#111" stroke-width="1.1"/></g>
<path d="M369.5 1284.5L376.5 1277.2L383.5 1284.5" fill="#ece9f5" stroke="#000" stroke-width="1.1" stroke-linejoin="miter"/><path d="M370.5 1285H382.5" stroke="#ece9f5" stroke-width="1.8"/>
<g transform="translate(488,1355)"><rect x="0.6" y="0.6" width="9.8" height="9.8" fill="#fff" stroke="#000" stroke-width="1.3"/><path d="M3.6 2.1H8.9V7.4Z" fill="#000"/><path d="M7.2 3.8L2.7 8.3" stroke="#000" stroke-width="2"/></g>
<g transform="translate(503.5,1351.4)"><circle r="4.9" fill="#fdfdff" stroke="#111" stroke-width="1.1"/><path d="M-2 0H2M0 -2V2" stroke="#111" stroke-width="1.1"/></g>
<g transform="translate(432,1389)"><rect x="0.6" y="0.6" width="9.8" height="9.8" fill="#fff" stroke="#000" stroke-width="1.3"/><path d="M3.6 2.1H8.9V7.4Z" fill="#000"/><path d="M7.2 3.8L2.7 8.3" stroke="#000" stroke-width="2"/></g>
<g transform="translate(447.5,1385.4)"><circle r="4.9" fill="#fdfdff" stroke="#111" stroke-width="1.1"/><path d="M-2 0H2M0 -2V2" stroke="#111" stroke-width="1.1"/></g>
<path d="M369.5 1408.5L376.5 1401.2L383.5 1408.5" fill="#ece9f5" stroke="#000" stroke-width="1.1" stroke-linejoin="miter"/><path d="M370.5 1409H382.5" stroke="#ece9f5" stroke-width="1.8"/>
<g transform="translate(515,1479)"><rect x="0.6" y="0.6" width="9.8" height="9.8" fill="#fff" stroke="#000" stroke-width="1.3"/><path d="M3.6 2.1H8.9V7.4Z" fill="#000"/><path d="M7.2 3.8L2.7 8.3" stroke="#000" stroke-width="2"/></g>
<g transform="translate(530.5,1475.4)"><circle r="4.9" fill="#fdfdff" stroke="#111" stroke-width="1.1"/><path d="M-2 0H2M0 -2V2" stroke="#111" stroke-width="1.1"/></g>
<path d="M369.5 1498.5L376.5 1491.2L383.5 1498.5" fill="#ece9f5" stroke="#000" stroke-width="1.1" stroke-linejoin="miter"/><path d="M370.5 1499H382.5" stroke="#ece9f5" stroke-width="1.8"/>
<g transform="translate(456,1552.4)"><circle r="4.9" fill="#fdfdff" stroke="#111" stroke-width="1.1"/><path d="M-2 0H2M0 -2V2" stroke="#111" stroke-width="1.1"/></g>
<path d="M369.5 1575.5L376.5 1568.2L383.5 1575.5" fill="#ece9f5" stroke="#000" stroke-width="1.1" stroke-linejoin="miter"/><path d="M370.5 1576H382.5" stroke="#ece9f5" stroke-width="1.8"/>
<g transform="translate(402,1642.4)"><circle r="4.9" fill="#fdfdff" stroke="#111" stroke-width="1.1"/><path d="M-2 0H2M0 -2V2" stroke="#111" stroke-width="1.1"/></g>
<path d="M369.5 1665.5L376.5 1658.2L383.5 1665.5" fill="#ece9f5" stroke="#000" stroke-width="1.1" stroke-linejoin="miter"/><path d="M370.5 1666H382.5" stroke="#ece9f5" stroke-width="1.8"/>
<g transform="translate(420,1732.4)"><circle r="4.9" fill="#fdfdff" stroke="#111" stroke-width="1.1"/><path d="M-2 0H2M0 -2V2" stroke="#111" stroke-width="1.1"/></g>
<path d="M369.5 1755.5L376.5 1748.2L383.5 1755.5" fill="#ece9f5" stroke="#000" stroke-width="1.1" stroke-linejoin="miter"/><path d="M370.5 1756H382.5" stroke="#ece9f5" stroke-width="1.8"/>
<path d="M263.5 1818.5L270.5 1811.2L277.5 1818.5" fill="#ece9f5" stroke="#000" stroke-width="1.1" stroke-linejoin="miter"/><path d="M264.5 1819H276.5" stroke="#ece9f5" stroke-width="1.8"/>
<g transform="translate(264.4,1863.2)"><circle cx="2" cy="2.2" r="14" fill="#000" opacity=".42" filter="url(#blur)"/><circle r="13.7" fill="#fcf9cd" stroke="#222" stroke-width="1.2"/><path d="M-9.5 3.2H-5.6M6 -2.8H9.5" stroke="#111" stroke-width="1.5"/><rect x="-10.3" y="1.8" width="2" height="2.8" fill="#111"/><rect x="8.4" y="-4.2" width="2" height="2.8" fill="#111"/><rect x="0.9" y="-5.7" width="5.4" height="5.7" fill="#b2b2b2" stroke="#000" stroke-width="1" shape-rendering="crispEdges"/><rect x="-2.3" y="-2.5" width="5.4" height="5.7" fill="#b2b2b2" stroke="#000" stroke-width="1" shape-rendering="crispEdges"/><rect x="-5.6" y="0.6" width="5.4" height="5.7" fill="#b2b2b2" stroke="#000" stroke-width="1" shape-rendering="crispEdges"/></g>
<path d="M249.5 1897.5L256.5 1890.2L263.5 1897.5" fill="#ece9f5" stroke="#000" stroke-width="1.1" stroke-linejoin="miter"/><path d="M250.5 1898H262.5" stroke="#ece9f5" stroke-width="1.8"/>
<g transform="translate(250.4,2053.3)"><circle cx="2" cy="2.2" r="14" fill="#000" opacity=".42" filter="url(#blur)"/><circle r="13.7" fill="#fcf9cd" stroke="#222" stroke-width="1.2"/><path d="M-9.5 3.2H-5.6M6 -2.8H9.5" stroke="#111" stroke-width="1.5"/><rect x="-10.3" y="1.8" width="2" height="2.8" fill="#111"/><rect x="8.4" y="-4.2" width="2" height="2.8" fill="#111"/><rect x="0.9" y="-5.7" width="5.4" height="5.7" fill="#b2b2b2" stroke="#000" stroke-width="1" shape-rendering="crispEdges"/><rect x="-2.3" y="-2.5" width="5.4" height="5.7" fill="#b2b2b2" stroke="#000" stroke-width="1" shape-rendering="crispEdges"/><rect x="-5.6" y="0.6" width="5.4" height="5.7" fill="#b2b2b2" stroke="#000" stroke-width="1" shape-rendering="crispEdges"/></g>
<g transform="translate(273.6,2053.2)"><circle r="4.9" fill="none" stroke="#111" stroke-width="1.2"/><path d="M-2.6 0H2.6" stroke="#111" stroke-width="1.2"/></g>
<g transform="translate(468,1938.4)"><circle r="4.9" fill="#fdfdff" stroke="#111" stroke-width="1.1"/><path d="M-2 0H2M0 -2V2" stroke="#111" stroke-width="1.1"/></g>
<path d="M341.5 1961.5L348.5 1954.2L355.5 1961.5" fill="#ece9f5" stroke="#000" stroke-width="1.1" stroke-linejoin="miter"/><path d="M342.5 1962H354.5" stroke="#ece9f5" stroke-width="1.8"/>
<g transform="translate(485,2015.4)"><circle r="4.9" fill="#fdfdff" stroke="#111" stroke-width="1.1"/><path d="M-2 0H2M0 -2V2" stroke="#111" stroke-width="1.1"/></g>
<path d="M341.5 2038.5L348.5 2031.2L355.5 2038.5" fill="#ece9f5" stroke="#000" stroke-width="1.1" stroke-linejoin="miter"/><path d="M342.5 2039H354.5" stroke="#ece9f5" stroke-width="1.8"/>
<g transform="translate(459,2092.4)"><circle r="4.9" fill="#fdfdff" stroke="#111" stroke-width="1.1"/><path d="M-2 0H2M0 -2V2" stroke="#111" stroke-width="1.1"/></g>
<path d="M341.5 2115.5L348.5 2108.2L355.5 2115.5" fill="#ece9f5" stroke="#000" stroke-width="1.1" stroke-linejoin="miter"/><path d="M342.5 2116H354.5" stroke="#ece9f5" stroke-width="1.8"/>
<g transform="translate(451,2169.4)"><circle r="4.9" fill="#fdfdff" stroke="#111" stroke-width="1.1"/><path d="M-2 0H2M0 -2V2" stroke="#111" stroke-width="1.1"/></g>
<path d="M235.5 2199.5L242.5 2192.2L249.5 2199.5" fill="#ece9f5" stroke="#000" stroke-width="1.1" stroke-linejoin="miter"/><path d="M236.5 2200H248.5" stroke="#ece9f5" stroke-width="1.8"/>
<g transform="translate(236.4,2244.3)"><circle cx="2" cy="2.2" r="14" fill="#000" opacity=".42" filter="url(#blur)"/><circle r="13.7" fill="#fcf9cd" stroke="#222" stroke-width="1.2"/><path d="M-9.5 3.2H-5.6M6 -2.8H9.5" stroke="#111" stroke-width="1.5"/><rect x="-10.3" y="1.8" width="2" height="2.8" fill="#111"/><rect x="8.4" y="-4.2" width="2" height="2.8" fill="#111"/><rect x="0.9" y="-5.7" width="5.4" height="5.7" fill="#b2b2b2" stroke="#000" stroke-width="1" shape-rendering="crispEdges"/><rect x="-2.3" y="-2.5" width="5.4" height="5.7" fill="#b2b2b2" stroke="#000" stroke-width="1" shape-rendering="crispEdges"/><rect x="-5.6" y="0.6" width="5.4" height="5.7" fill="#b2b2b2" stroke="#000" stroke-width="1" shape-rendering="crispEdges"/></g>
<g transform="translate(259.6,2244.2)"><circle r="4.9" fill="none" stroke="#111" stroke-width="1.2"/><path d="M-2.6 0H2.6" stroke="#111" stroke-width="1.2"/></g>
<g transform="translate(389,2244.4)"><circle r="4.9" fill="#fdfdff" stroke="#111" stroke-width="1.1"/><path d="M-2 0H2M0 -2V2" stroke="#111" stroke-width="1.1"/></g>
<path d="M327.5 2267.5L334.5 2260.2L341.5 2267.5" fill="#ece9f5" stroke="#000" stroke-width="1.1" stroke-linejoin="miter"/><path d="M328.5 2268H340.5" stroke="#ece9f5" stroke-width="1.8"/>
<path d="M221.5 2330.5L228.5 2323.2L235.5 2330.5" fill="#ece9f5" stroke="#000" stroke-width="1.1" stroke-linejoin="miter"/><path d="M222.5 2331H234.5" stroke="#ece9f5" stroke-width="1.8"/>
<g transform="translate(222.4,2755.3)"><circle cx="2" cy="2.2" r="14" fill="#000" opacity=".42" filter="url(#blur)"/><circle r="13.7" fill="#fcf9cd" stroke="#222" stroke-width="1.2"/><path d="M-9.5 3.2H-5.6M6 -2.8H9.5" stroke="#111" stroke-width="1.5"/><rect x="-10.3" y="1.8" width="2" height="2.8" fill="#111"/><rect x="8.4" y="-4.2" width="2" height="2.8" fill="#111"/><rect x="0.9" y="-5.7" width="5.4" height="5.7" fill="#b2b2b2" stroke="#000" stroke-width="1" shape-rendering="crispEdges"/><rect x="-2.3" y="-2.5" width="5.4" height="5.7" fill="#b2b2b2" stroke="#000" stroke-width="1" shape-rendering="crispEdges"/><rect x="-5.6" y="0.6" width="5.4" height="5.7" fill="#b2b2b2" stroke="#000" stroke-width="1" shape-rendering="crispEdges"/></g>
<g transform="translate(245.6,2755.2)"><circle r="4.9" fill="none" stroke="#111" stroke-width="1.2"/><path d="M-2.6 0H2.6" stroke="#111" stroke-width="1.2"/></g>
<g transform="translate(405,2371.4)"><circle r="4.9" fill="#fdfdff" stroke="#111" stroke-width="1.1"/><path d="M-2 0H2M0 -2V2" stroke="#111" stroke-width="1.1"/></g>
<path d="M313.5 2394.5L320.5 2387.2L327.5 2394.5" fill="#ffffff" stroke="#000" stroke-width="1.1" stroke-linejoin="miter"/><path d="M314.5 2395H326.5" stroke="#ffffff" stroke-width="1.8"/>
<g transform="translate(425,2435.4)"><circle r="4.9" fill="#fdfdff" stroke="#111" stroke-width="1.1"/><path d="M-2 0H2M0 -2V2" stroke="#111" stroke-width="1.1"/></g>
<path d="M313.5 2458.5L320.5 2451.2L327.5 2458.5" fill="#ffffff" stroke="#000" stroke-width="1.1" stroke-linejoin="miter"/><path d="M314.5 2459H326.5" stroke="#ffffff" stroke-width="1.8"/>
<g transform="translate(423,2499.4)"><circle r="4.9" fill="#fdfdff" stroke="#111" stroke-width="1.1"/><path d="M-2 0H2M0 -2V2" stroke="#111" stroke-width="1.1"/></g>
<path d="M313.5 2522.5L320.5 2515.2L327.5 2522.5" fill="#ffffff" stroke="#000" stroke-width="1.1" stroke-linejoin="miter"/><path d="M314.5 2523H326.5" stroke="#ffffff" stroke-width="1.8"/>
<g transform="translate(433,2576.4)"><circle r="4.9" fill="#fdfdff" stroke="#111" stroke-width="1.1"/><path d="M-2 0H2M0 -2V2" stroke="#111" stroke-width="1.1"/></g>
<path d="M313.5 2599.5L320.5 2592.2L327.5 2599.5" fill="#ffffff" stroke="#000" stroke-width="1.1" stroke-linejoin="miter"/><path d="M314.5 2600H326.5" stroke="#ffffff" stroke-width="1.8"/>
<g transform="translate(412,2640.4)"><circle r="4.9" fill="#fdfdff" stroke="#111" stroke-width="1.1"/><path d="M-2 0H2M0 -2V2" stroke="#111" stroke-width="1.1"/></g>
<path d="M313.5 2663.5L320.5 2656.2L327.5 2663.5" fill="#ffffff" stroke="#000" stroke-width="1.1" stroke-linejoin="miter"/><path d="M314.5 2664H326.5" stroke="#ffffff" stroke-width="1.8"/>
<g transform="translate(398,2730.4)"><circle r="4.9" fill="#fdfdff" stroke="#111" stroke-width="1.1"/><path d="M-2 0H2M0 -2V2" stroke="#111" stroke-width="1.1"/></g>
<path d="M313.5 2753.5L320.5 2746.2L327.5 2753.5" fill="#ffffff" stroke="#000" stroke-width="1.1" stroke-linejoin="miter"/><path d="M314.5 2754H326.5" stroke="#ffffff" stroke-width="1.8"/>
<g transform="translate(386,2794.4)"><circle r="4.9" fill="#fdfdff" stroke="#111" stroke-width="1.1"/><path d="M-2 0H2M0 -2V2" stroke="#111" stroke-width="1.1"/></g>
<path d="M313.5 2817.5L320.5 2810.2L327.5 2817.5" fill="#ffffff" stroke="#000" stroke-width="1.1" stroke-linejoin="miter"/><path d="M314.5 2818H326.5" stroke="#ffffff" stroke-width="1.8"/>
<g transform="translate(425,2858.4)"><circle r="4.9" fill="#fdfdff" stroke="#111" stroke-width="1.1"/><path d="M-2 0H2M0 -2V2" stroke="#111" stroke-width="1.1"/></g>
<path d="M313.5 2881.5L320.5 2874.2L327.5 2881.5" fill="#ffffff" stroke="#000" stroke-width="1.1" stroke-linejoin="miter"/><path d="M314.5 2882H326.5" stroke="#ffffff" stroke-width="1.8"/>
<g transform="translate(415,2922.4)"><circle r="4.9" fill="#fdfdff" stroke="#111" stroke-width="1.1"/><path d="M-2 0H2M0 -2V2" stroke="#111" stroke-width="1.1"/></g>
<path d="M313.5 2945.5L320.5 2938.2L327.5 2945.5" fill="#ffffff" stroke="#000" stroke-width="1.1" stroke-linejoin="miter"/><path d="M314.5 2946H326.5" stroke="#ffffff" stroke-width="1.8"/>
<g transform="translate(451,3012.4)"><circle r="4.9" fill="#fdfdff" stroke="#111" stroke-width="1.1"/><path d="M-2 0H2M0 -2V2" stroke="#111" stroke-width="1.1"/></g>
<path d="M313.5 3035.5L320.5 3028.2L327.5 3035.5" fill="#ffffff" stroke="#000" stroke-width="1.1" stroke-linejoin="miter"/><path d="M314.5 3036H326.5" stroke="#ffffff" stroke-width="1.8"/>
<g transform="translate(434,3076.4)"><circle r="4.9" fill="#fdfdff" stroke="#111" stroke-width="1.1"/><path d="M-2 0H2M0 -2V2" stroke="#111" stroke-width="1.1"/></g>
<path d="M313.5 3099.5L320.5 3092.2L327.5 3099.5" fill="#ffffff" stroke="#000" stroke-width="1.1" stroke-linejoin="miter"/><path d="M314.5 3100H326.5" stroke="#ffffff" stroke-width="1.8"/>
<g transform="translate(376,3140.4)"><circle r="4.9" fill="#fdfdff" stroke="#111" stroke-width="1.1"/><path d="M-2 0H2M0 -2V2" stroke="#111" stroke-width="1.1"/></g>
<path d="M313.5 3163.5L320.5 3156.2L327.5 3163.5" fill="#ffffff" stroke="#000" stroke-width="1.1" stroke-linejoin="miter"/><path d="M314.5 3164H326.5" stroke="#ffffff" stroke-width="1.8"/>
<rect x="9.5" y="1938.5" width="12.5" height="12.5" fill="url(#gsq)" stroke="#9585c4" stroke-width="1"/>
<g transform="translate(154.4,1944.3)"><circle r="4.9" fill="none" stroke="#111" stroke-width="1.2"/><path d="M-2.6 0H2.6" stroke="#111" stroke-width="1.2"/></g>
<path d="M13.5 1968.5L20.5 1961.2L27.5 1968.5" fill="#f6f4fb" stroke="#000" stroke-width="1.1" stroke-linejoin="miter"/><path d="M14.5 1969H26.5" stroke="#f6f4fb" stroke-width="1.8"/>
</svg>
</div></body></html>
